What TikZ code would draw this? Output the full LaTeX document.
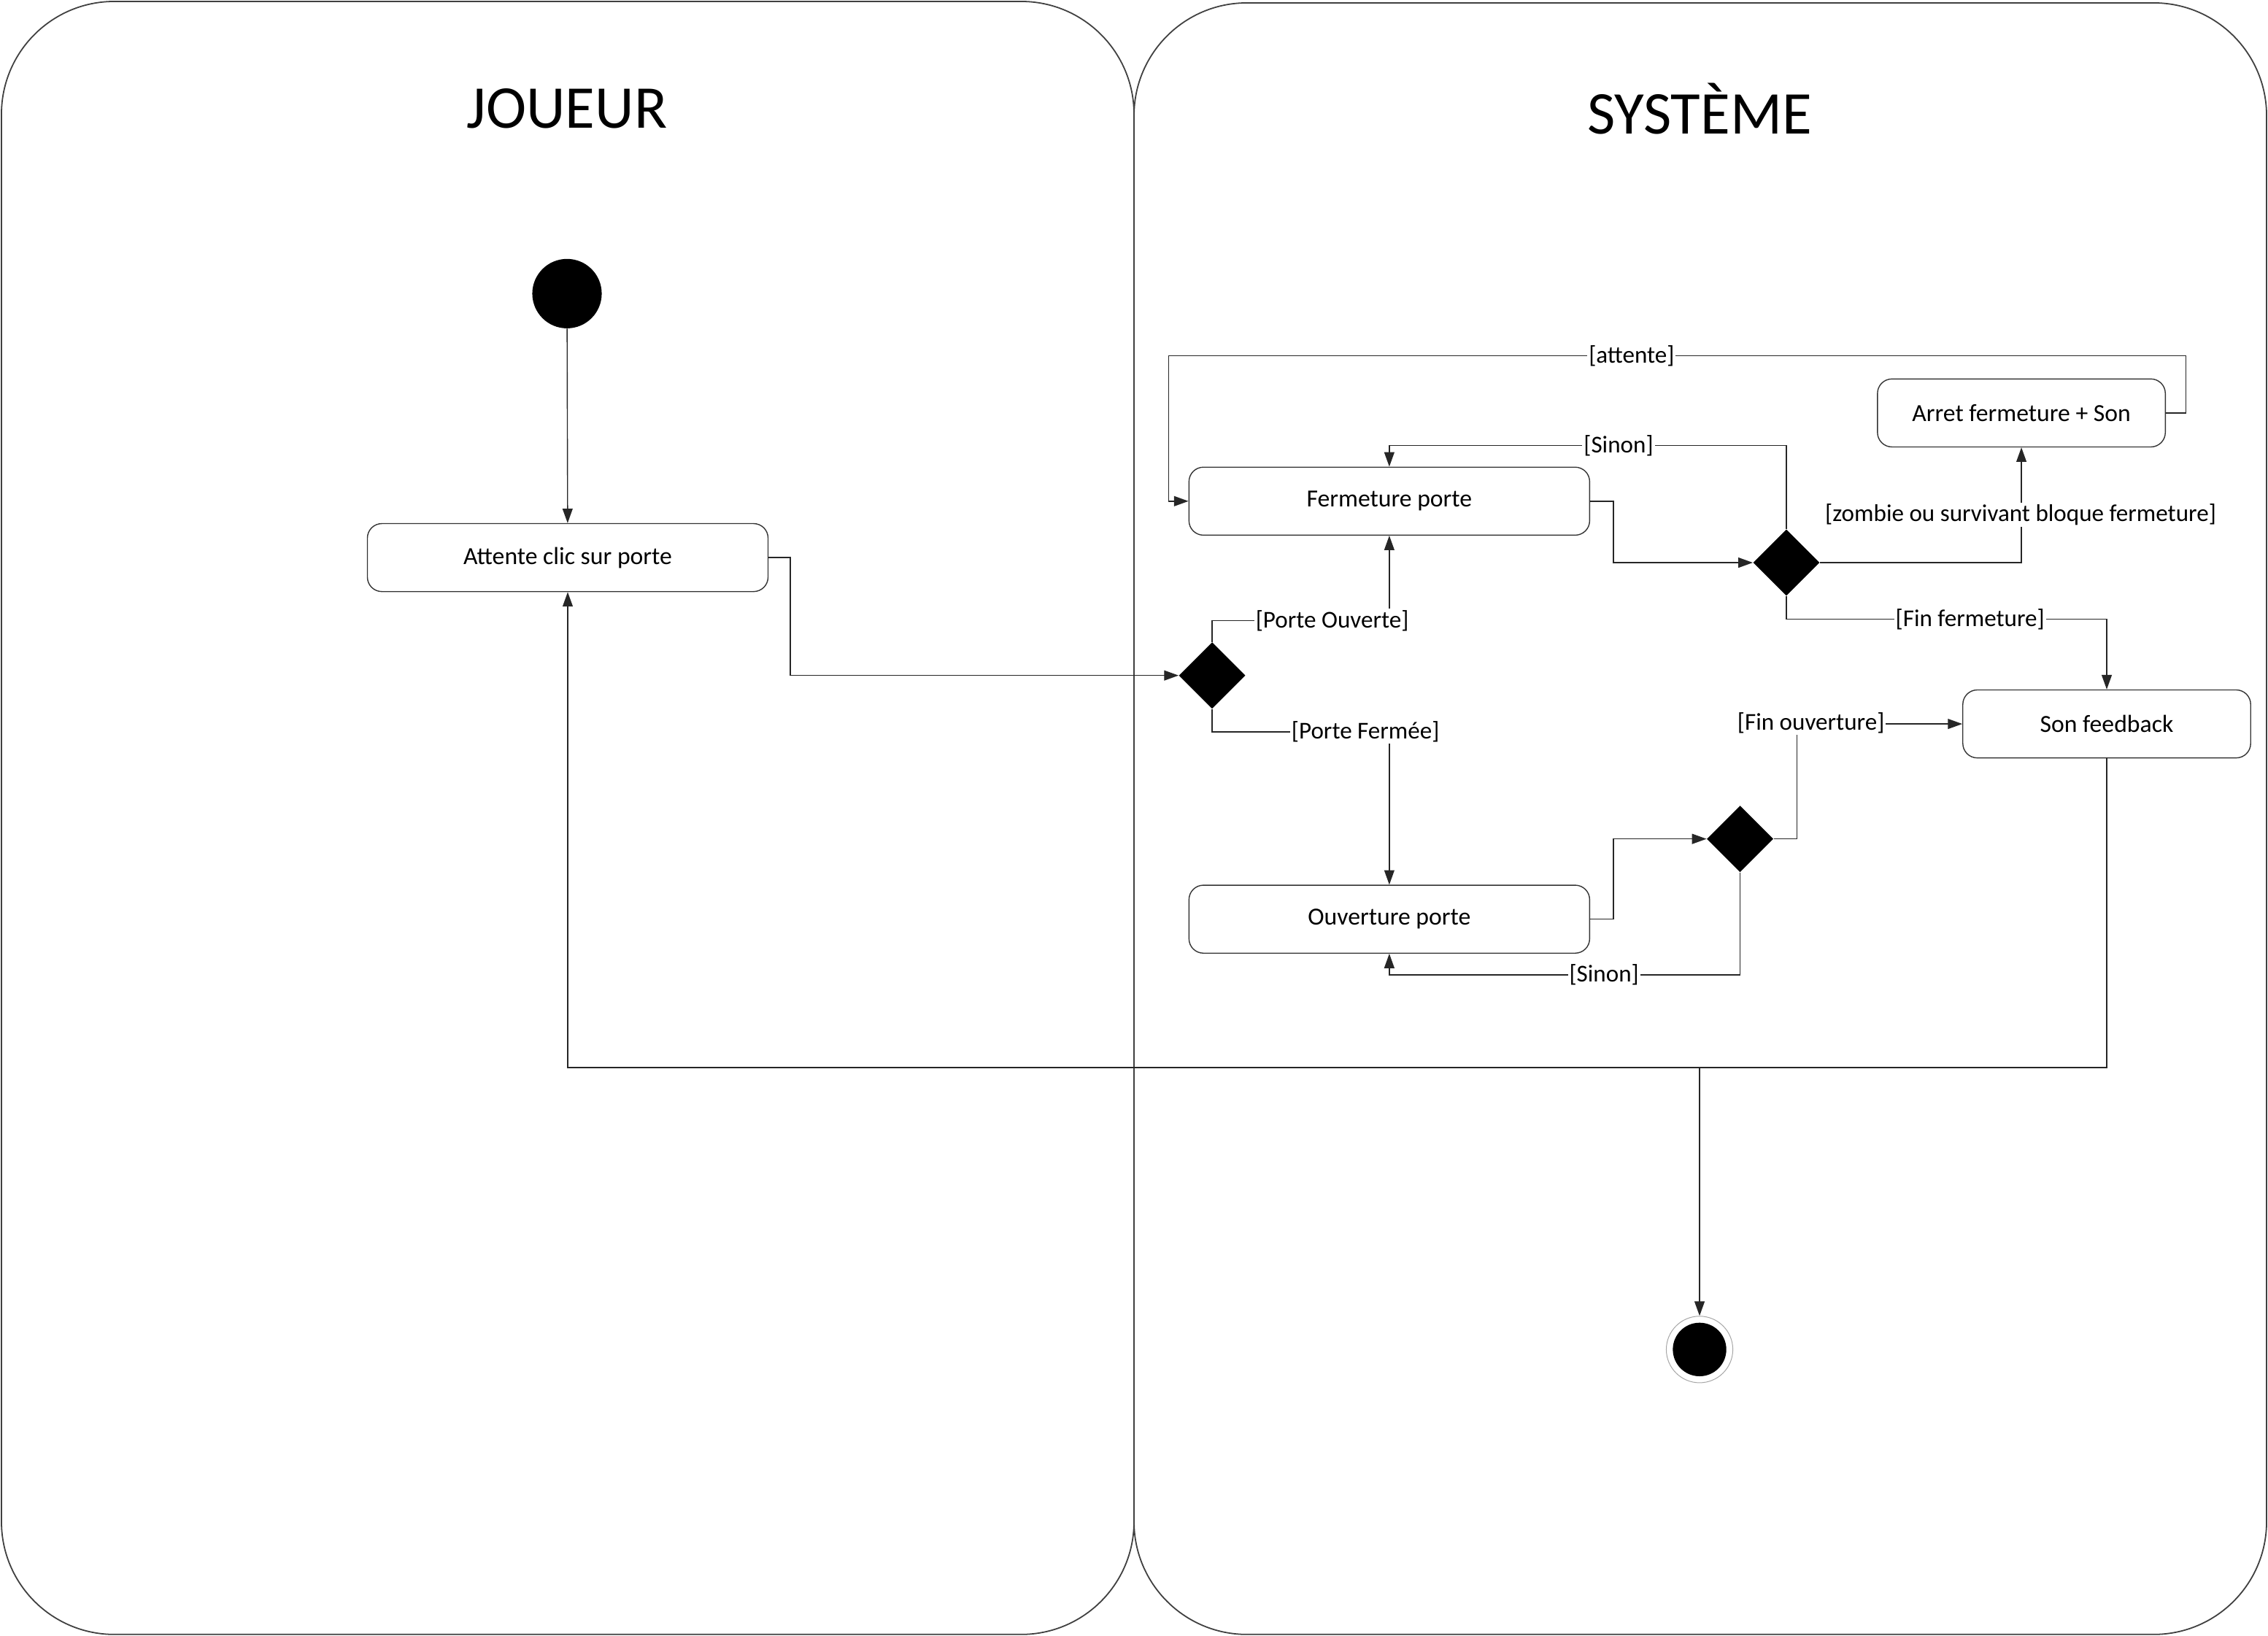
\documentclass[tikz,border=0pt]{standalone}
\usepackage{fontspec}
\setmainfont{Carlito}
\usetikzlibrary{shapes.geometric,arrows.meta}
\begin{document}
\begin{tikzpicture}[x=1pt,y=-1pt,
 lane/.style={draw=black!75, line width=0.9pt, rounded corners=78pt},
 act/.style={draw=black!80, line width=0.7pt, rounded corners=10pt, minimum width=277pt, minimum height=47pt, font=\fontsize{17}{20}\selectfont, inner sep=0pt},
 actsmall/.style={act, minimum width=199pt},
 dec/.style={diamond, fill=black, minimum width=46pt, minimum height=46pt, inner sep=0pt},
 conn/.style={draw=black!85, line width=0.7pt, -{Triangle[length=10pt,width=7pt]}},
 lbl/.style={fill=white, inner sep=1pt, font=\fontsize{16.7}{19}\selectfont},
 lanetitle/.style={font=\fontsize{42}{50}\selectfont}]

\useasboundingbox (0,0) rectangle (1568,1131);
\fill[white] (0,0) rectangle (1568,1131);

% swimlanes
\draw[lane] (1,1) rectangle (784,1130);
\draw[lane] (784,2) rectangle (1567,1130);
\node[lanetitle] (tj) at (392,75) {JOUEUR};
\node[lanetitle] (ts) at (1175,75) {SYSTÈME};

% nodes
\node[circle, fill=black, minimum size=48pt, inner sep=0pt] (start) at (392,203) {};
\node[act] (attente) at (392.5,385.5) {Attente clic sur porte};
\node[act] (ferm) at (960.5,346.5) {Fermeture porte};
\node[act] (ouv) at (960.5,635.5) {Ouverture porte};
\node[actsmall] (arret) at (1397.5,285.5) {Arret fermeture + Son};
\node[actsmall] (son) at (1456.5,500.5) {Son feedback};
\node[dec] (d1) at (838,467) {};
\node[dec] (d2) at (1235,389) {};
\node[dec] (d3) at (1203,580) {};
\node[circle, draw=black!35, line width=0.5pt, minimum size=46pt, inner sep=0pt] (end) at (1175,933) {};
\node[circle, fill=black, minimum size=37pt, inner sep=0pt] (endin) at (end.center) {};
\coordinate (j) at (1175,738);

% connectors
\draw[conn] (start) -- (attente);
\draw[conn] (attente.east) -- ++(15,0) |- (d1.west);
\draw[conn] (d1.north) |- (ferm.south |- 0,429) -- (ferm.south);
\draw[conn] (d1.south) |- (ouv.north |- 0,506) -- (ouv.north);
\draw[conn] (ferm.east) -- ++(16,0) |- (d2.west);
\draw[conn] (d2.north) |- (ferm.north |- 0,308) -- (ferm.north);
\draw[conn] (d2.east) -| (arret.south);
\draw[conn] (arret.east) -- ++(14,0) |- (808,246) |- (ferm.west);
\draw[conn] (d2.south) |- (son.north |- 0,428) -- (son.north);
\draw[conn] (ouv.east) -- ++(16,0) |- (d3.west);
\draw[conn] (d3.east) -- ++(16,0) |- (son.west);
\draw[conn] (d3.south) |- (ouv.south |- 0,674) -- (ouv.south);
\draw[conn] (son.south) |- (attente.south |- 0,738) -- (attente.south);
\draw[conn] (j) -- (end);

% guard labels
\node[lbl] (l1) at (921,429) {[Porte Ouverte]};
\node[lbl] (l2) at (944,506) {[Porte Fermée]};
\node[lbl] (l3) at (1119,308) {[Sinon]};
\node[lbl] (l4) at (1397,356) {[zombie ou survivant bloque fermeture]};
\node[lbl] (l5) at (1128,246) {[attente]};
\node[lbl] (l6) at (1362,428) {[Fin fermeture]};
\node[lbl] (l7) at (1252,500) {[Fin ouverture]};
\node[lbl] (l8) at (1109,674) {[Sinon]};
\end{tikzpicture}
\end{document}
